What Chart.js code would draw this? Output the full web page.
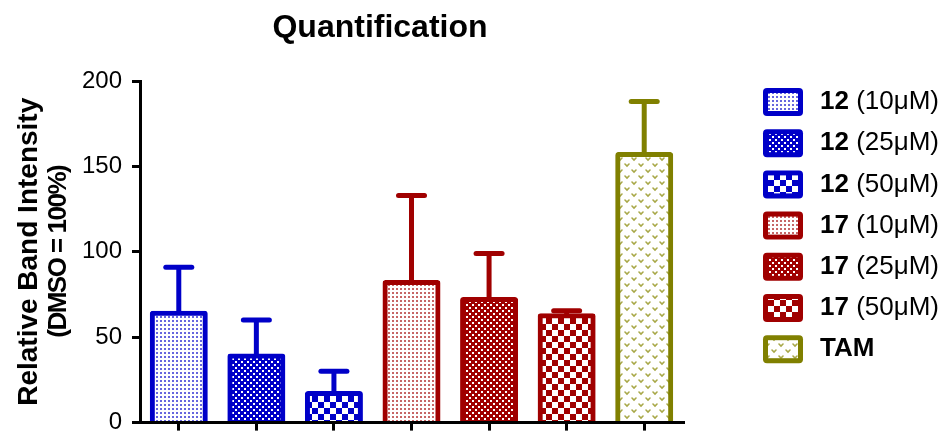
<!DOCTYPE html>
<html>
<head>
<meta charset="utf-8">
<script src="https://cdn.jsdelivr.net/npm/chart.js@4.4.1/dist/chart.umd.min.js"></script>
<style>
  html, body { margin: 0; padding: 0; background: #ffffff; }
  #wrap { width: 952px; height: 447px; position: relative; }
</style>
</head>
<body>
<div id="wrap"><canvas id="chart" width="952" height="447"></canvas></div>
<script>
// ---- data ----
const compounds = ['12', '12', '12', '17', '17', '17', 'TAM'];
const doses = ['(10μM)', '(25μM)', '(50μM)', '(10μM)', '(25μM)', '(50μM)', ''];
const meanIntensity = [64, 39, 17, 82, 72, 62.5, 157];   // % of DMSO
const errorUp = [27, 21, 13, 51, 27, 3, 31];            // upper error bar
const yTickValues = [0, 50, 100, 150, 200];
const yTitleLines = ['Relative Band Intensity', '(DMSO = 100%)'];

// ---- styling ----
const FONT = "'Liberation Sans', Arial, Helvetica, sans-serif";
const BLUE = '#0000c8', RED = '#a00000', OLIVE = '#808000';
const barColors = [BLUE, BLUE, BLUE, RED, RED, RED, OLIVE];
const fillKinds = ['dots', 'mesh', 'checker', 'dots', 'mesh', 'checker', 'chevrons'];

const categoryLabels = compounds.map((c, i) => doses[i] ? c + ' ' + doses[i] : c);

function makePattern(kind, color) {
  const c = document.createElement('canvas');
  const g = c.getContext('2d');
  if (kind === 'dots') {
    c.width = 4; c.height = 4;
    g.fillStyle = '#fff'; g.fillRect(0, 0, 4, 4);
    g.globalAlpha = 0.6; g.fillStyle = color;
    g.fillRect(0, 0, 2, 2);
  } else if (kind === 'mesh') {
    c.width = 6; c.height = 6;
    g.fillStyle = color; g.fillRect(0, 0, 6, 6);
    g.fillStyle = '#fff'; g.fillRect(1, 1, 2, 2); g.fillRect(4, 4, 2, 2);
  } else if (kind === 'checker') {
    c.width = 12; c.height = 12;
    g.fillStyle = '#fff'; g.fillRect(0, 0, 12, 12);
    g.fillStyle = color; g.fillRect(0, 0, 6, 6); g.fillRect(6, 6, 6, 6);
  } else {
    c.width = 14; c.height = 12;
    g.fillStyle = '#fff'; g.fillRect(0, 0, 14, 12);
    g.strokeStyle = '#a8a848'; g.lineWidth = 1.6; g.lineCap = 'round';
    const vee = (x, y) => { g.beginPath(); g.moveTo(x, y); g.lineTo(x + 2, y + 2); g.lineTo(x + 4, y); g.stroke(); };
    vee(2, 2); vee(9, 8);
  }
  return c.getContext('2d').createPattern(c, 'repeat');
}

const fills = fillKinds.map((k, i) => makePattern(k, barColors[i]));

// upper error bars with a cap
const errorBarPlugin = {
  id: 'errorBars',
  afterDatasetsDraw(chart) {
    const ctx = chart.ctx;
    const y = chart.scales.y;
    const meta = chart.getDatasetMeta(0);
    ctx.save();
    ctx.lineWidth = 5;
    meta.data.forEach((bar, i) => {
      const yMean = y.getPixelForValue(meanIntensity[i]);
      const yTop = y.getPixelForValue(meanIntensity[i] + errorUp[i]);
      ctx.strokeStyle = barColors[i];
      ctx.lineCap = 'butt';
      ctx.beginPath(); ctx.moveTo(bar.x, yMean); ctx.lineTo(bar.x, yTop); ctx.stroke();
      ctx.lineCap = 'round';
      ctx.beginPath(); ctx.moveTo(bar.x - 13, yTop); ctx.lineTo(bar.x + 13, yTop); ctx.stroke();
    });
    ctx.restore();
  }
};

// chart title, y-axis title and legend with pattern swatches
const decorPlugin = {
  id: 'decor',
  afterDraw(chart) {
    const ctx = chart.ctx;
    const area = chart.chartArea;
    ctx.save();
    ctx.fillStyle = '#000';
    ctx.textBaseline = 'middle';
    ctx.textAlign = 'center';
    ctx.font = 'bold 32px ' + FONT;
    ctx.fillText('Quantification', 380, 28);

    // rotated two-line axis title, centred on the plot height
    const midY = (area.top + area.bottom) / 2;
    ctx.save();
    ctx.translate(29, midY);
    ctx.rotate(-Math.PI / 2);
    ctx.font = 'bold 28px ' + FONT;
    ctx.fillText(yTitleLines[0], 0, 0);
    ctx.restore();
    ctx.save();
    ctx.translate(59, midY);
    ctx.rotate(-Math.PI / 2);
    ctx.font = 'bold 26px ' + FONT;
    ctx.letterSpacing = '-1.5px';
    ctx.fillText(yTitleLines[1], 0, 0);
    ctx.restore();

    const boxX = 763, boxW = 40, boxH = 28, bw = 5;
    compounds.forEach((name, i) => {
      const cy = 102 + i * 41.2;
      const top = cy - boxH / 2;
      ctx.beginPath();
      ctx.roundRect(boxX, top, boxW, boxH, 4);
      ctx.fillStyle = barColors[i];
      ctx.fill();
      ctx.fillStyle = fills[i];
      ctx.fillRect(boxX + bw, top + bw, boxW - 2 * bw, boxH - 2 * bw);

      ctx.fillStyle = '#000';
      ctx.textAlign = 'left';
      ctx.font = 'bold 26px ' + FONT;
      ctx.fillText(name, 820, cy);
      if (doses[i]) {
        const w = ctx.measureText(name).width;
        ctx.font = '26px ' + FONT;
        ctx.fillText(' ' + doses[i], 820 + w, cy);
      }
    });
    ctx.restore();
  }
};

new Chart(document.getElementById('chart'), {
  type: 'bar',
  data: {
    labels: categoryLabels,
    datasets: [{
      data: meanIntensity,
      backgroundColor: fills,
      borderColor: barColors,
      borderWidth: 5,
      borderSkipped: 'start',
      borderRadius: 3,
      inflateAmount: 2.5,
      barPercentage: 0.683,
      categoryPercentage: 1.0
    }]
  },
  options: {
    responsive: false,
    animation: false,
    devicePixelRatio: 1,
    layout: { padding: { top: 81, right: 269, left: 0, bottom: 0 } },
    plugins: {
      legend: { display: false },
      title: { display: false },
      tooltip: { enabled: false }
    },
    scales: {
      x: {
        type: 'category',
        offset: true,
        grid: { display: true, drawOnChartArea: false, drawTicks: true, tickLength: 8, offset: false, color: '#000', lineWidth: 3 },
        border: { display: true, color: '#000', width: 3 },
        ticks: { display: false },
        afterFit(scale) { scale.height = 7; }
      },
      y: {
        min: 0,
        max: 200,
        afterBuildTicks(scale) { scale.ticks = yTickValues.map(v => ({ value: v })); },
        grid: { display: true, drawOnChartArea: false, drawTicks: true, tickLength: 8, color: '#000', lineWidth: 3 },
        border: { display: true, color: '#000', width: 3 },
        ticks: { color: '#000', padding: 10, font: { family: FONT, size: 24 } },
        afterFit(scale) { scale.width = 140; }
      }
    }
  },
  plugins: [errorBarPlugin, decorPlugin]
});
</script>
</body>
</html>
